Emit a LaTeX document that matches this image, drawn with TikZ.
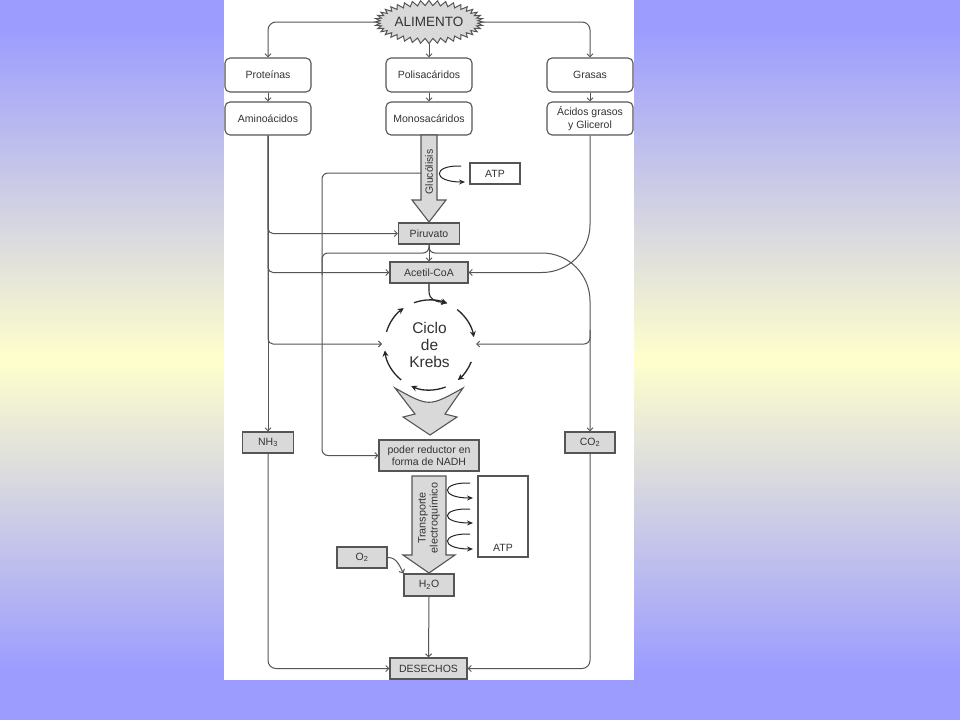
\documentclass[tikz,border=0pt]{standalone}
\usepackage{fontspec}
\setmainfont{Liberation Sans}
\usetikzlibrary{arrows.meta}
\definecolor{bgblue}{HTML}{9C9CFF}
\definecolor{bgyel}{HTML}{FFFFCC}
\definecolor{boxfill}{HTML}{D9D9D9}
\definecolor{linec}{HTML}{555555}
\definecolor{txt}{HTML}{333333}
\begin{document}
\begin{tikzpicture}[x=1pt,y=-1pt,
  conn/.style={draw=linec, line width=1pt, -{Straight Barb[length=3pt,width=6pt]}},
  plain/.style={draw=linec, line width=1pt},
  lbl/.style={text=txt, font=\fontsize{10.5}{12.5}\selectfont},
  rbox/.style={lbl, draw=linec, fill=white, rounded corners=5pt, line width=1.1pt, minimum width=86pt, minimum height=34pt, inner sep=0pt, align=center},
  gbox/.style={lbl, draw=linec, fill=boxfill, line width=1.1pt, inner sep=0pt, align=center, minimum height=21pt},
  wbox/.style={gbox, fill=white},
  karc/.style={draw=black!85, line width=1.3pt, -{Stealth[length=6pt,width=6pt]}},
  barrow/.style={draw=black!85, line width=1pt, -{Stealth[length=6pt,width=5pt]}},
  bigarrow/.style={draw=linec, fill=boxfill, line width=1.1pt, line join=miter}
]
\useasboundingbox (0,0) rectangle (960,720);
% background
\fill[bgblue] (0,0) rectangle (960,720);
\shade[top color=bgblue, bottom color=bgyel] (0,30) rectangle (960,360);
\shade[top color=bgyel, bottom color=bgblue] (0,359.5) rectangle (960,670);
\fill[white] (224,0) rectangle (634,680);

% starburst
\draw[draw=linec, fill=boxfill, line width=1pt, line join=miter] plot[samples=81, domain=0:360]
  ({429+(51.5+2.5*cos(40*\x))*cos(\x)}, {22+(19+2.5*cos(40*\x))*sin(\x)}) -- cycle;
\node[text=txt, font=\fontsize{13.5}{15}\selectfont, minimum width=108pt, minimum height=43pt, inner sep=0pt] (alim) at (429,22) {ALIMENTO};

% boxes
\node[rbox] (prot) at (268,75) {Proteínas};
\node[rbox] (poli) at (429,75) {Polisacáridos};
\node[rbox] (gras) at (590,75) {Grasas};
\node[rbox, minimum height=33pt] (amino) at (268,118.5) {Aminoácidos};
\node[rbox, minimum height=33pt] (mono) at (429,118.5) {Monosacáridos};
\node[rbox, minimum height=33pt] (acid) at (590,118.5) {Ácidos grasos\\y Glicerol};

\node[wbox, minimum width=50pt] (atpa) at (495,173.5) {ATP};
\node[gbox, minimum width=61pt] (piru) at (429,233.5) {Piruvato};
\node[gbox, minimum width=78pt] (acet) at (429,272.5) {Acetil-CoA};
\node[gbox, minimum width=51pt] (nh3) at (268,442.5) {NH\textsubscript{3}};
\node[gbox, minimum width=50pt] (co2) at (590,442.5) {CO\textsubscript{2}};
\node[gbox, minimum width=100pt, minimum height=31pt] (poder) at (429,455.5) {poder reductor en\\forma de NADH};
\node[wbox, minimum width=50pt, minimum height=81pt,
  label={[lbl, anchor=south, yshift=3pt]south:ATP}] (atpb) at (503,516.5) {};
\node[gbox, minimum width=50pt] (o2) at (362,557.5) {O\textsubscript{2}};
\node[gbox, minimum width=50pt, minimum height=22pt] (h2o) at (429,585) {H\textsubscript{2}O};
\node[gbox, minimum width=77pt] (des) at (428.5,668.5) {DESECHOS};

% Krebs
\coordinate (kc) at (429.5,345);
\coordinate (krL) at (382,344);
\coordinate (krR) at (476,344);
\node[text=txt, align=center, font=\fontsize{15.5}{17}\selectfont] (krebs) at (429.5,345) {Ciclo\\de\\Krebs};
\draw[karc] (kc) ++(-110:45) arc[start angle=-110, end angle=-67, radius=45];
\draw[karc] (kc) ++(-52:45) arc[start angle=-52, end angle=-10, radius=45];
\draw[karc] (kc) ++(22:45) arc[start angle=22, end angle=51, radius=45];
\draw[karc] (kc) ++(69:45) arc[start angle=69, end angle=114, radius=45];
\draw[karc] (kc) ++(129:45) arc[start angle=129, end angle=173, radius=45];
\draw[karc] (kc) ++(-163:45) arc[start angle=-163, end angle=-125, radius=45];

% top connectors
\draw[conn, rounded corners=8pt] (alim.west) -| (prot.north);
\draw[conn] (alim.south) -- (poli.north);
\draw[conn, rounded corners=8pt] (alim.east) -| (gras.north);
\draw[conn] (prot.south) -- (amino.north);
\draw[conn] (poli.south) -- (mono.north);
\draw[conn] (gras.south) -- (acid.north);

% aminoacid branches
\draw[conn] (amino.south) -- (nh3.north);
\draw[conn, rounded corners=5pt] (amino.south) |- (piru.west);
\draw[conn, rounded corners=5pt] (amino.south) |- (acet.west);
\draw[conn, rounded corners=5pt] (amino.south) |- (krL);

% fatty acids to acetil
\draw[conn, rounded corners=48pt] (acid.south) |- (acet.east);

% glycolysis arrow
\draw[bigarrow] (421,135) -- (421,200) -- (412,200) -- (429,222) -- (446,200) -- (437,200) -- (437,135) -- cycle;
\node[lbl, rotate=90] (gtxt) at (429,172) {Glucólisis};
\coordinate (gl) at (421,173);
\draw[conn, rounded corners=6pt] (gl) -| (322,300) |- (poder.west);
\coordinate (ga) at (461,166);
\coordinate (gb) at (465,182);
\draw[barrow] (ga) .. controls (432,165) and (432,182) .. (gb);

% piruvato -> acetil and branches
\draw[conn] (piru.south) -- (acet.north);
\draw[plain, rounded corners=6pt] (piru.south) |- (322,253) -- (322,275);
\draw[conn] [rounded corners=6pt] (piru.south) |- (480,253) [rounded corners=48pt] -| (co2.north);
\coordinate (kb) at (590,330);
\draw[conn, rounded corners=6pt] (kb) |- (krR);

% acetil -> krebs
\draw[karc, line width=1.1pt] (acet.south) -- (429,291) .. controls (429,300) and (436,302) .. (447,302.5);

% chevron
\draw[bigarrow] (395,388) -- (415,414) -- (403,417) -- (430,435) -- (457,417) -- (445,414) -- (463,388) .. controls (429,407) .. (395,388) -- cycle;

% electron transport arrow
\draw[bigarrow] (412,476) -- (412,555) -- (403,555) -- (429,573) -- (455,555) -- (446,555) -- (446,476) -- cycle;
\node[lbl, rotate=90, align=center, font=\fontsize{10.8}{12}\selectfont] (ttxt) at (429,518) {Transporte\\electroquímico};
\coordinate (t1) at (470,483);
\coordinate (t2) at (470,509);
\coordinate (t3) at (470,534);
\coordinate (e1) at (473,498);
\coordinate (e2) at (473,523);
\coordinate (e3) at (473,549);
\draw[barrow] (t1) .. controls (440,482) and (440,498) .. (e1);
\draw[barrow] (t2) .. controls (440,508) and (440,523) .. (e2);
\draw[barrow] (t3) .. controls (440,533) and (440,549) .. (e3);

% bottom
\draw[conn] (o2.east) .. controls (397,557) and (400,567) .. (h2o.north west);
\draw[conn] (h2o.south) -- (des.north);
\draw[conn, rounded corners=8pt] (nh3.south) |- (des.west);
\draw[conn, rounded corners=8pt] (co2.south) |- (des.east);
\end{tikzpicture}
\end{document}
